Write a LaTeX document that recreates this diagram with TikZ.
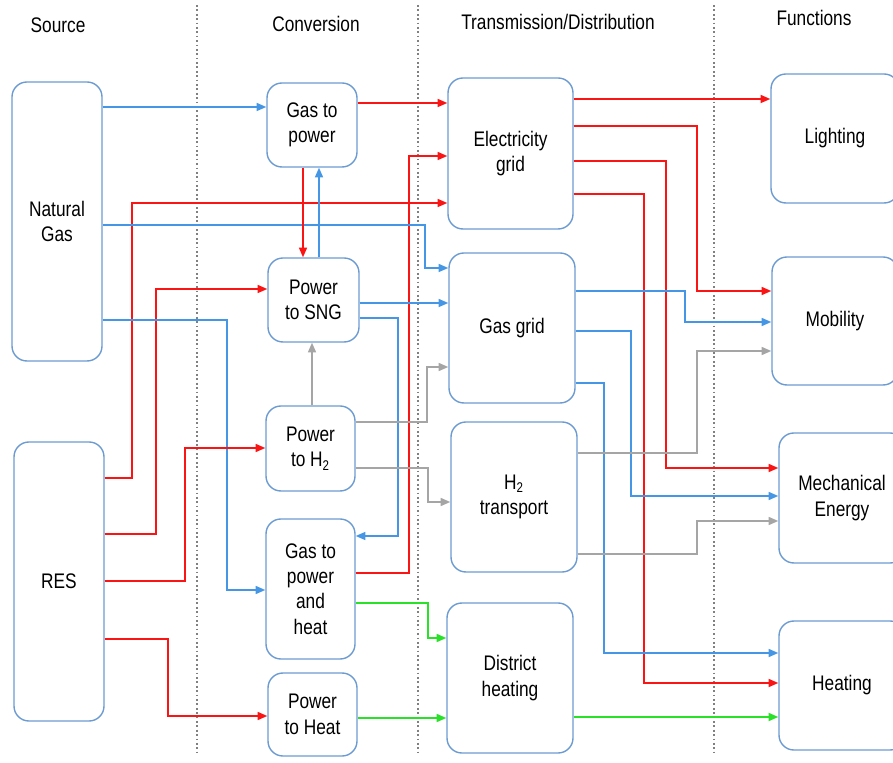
\documentclass[tikz,border=0pt]{standalone}
\usepackage{fontspec}
\setmainfont{Liberation Sans}[FakeStretch=0.82]
\usetikzlibrary{arrows.meta}
\pgfdeclarelayer{background}
\pgfdeclarelayer{foreground}
\pgfsetlayers{background,main,foreground}
\definecolor{boxblue}{RGB}{108,155,210}
\definecolor{flred}{RGB}{250,20,20}
\definecolor{flblue}{RGB}{70,150,230}
\definecolor{flgray}{RGB}{165,165,165}
\definecolor{flgreen}{RGB}{40,225,40}

\begin{document}
\begin{tikzpicture}[x=0.02cm,y=-0.02cm,
	every node/.style={font=\fontsize{12}{14.5}\selectfont,align=center},
	box/.style 2 args={draw=boxblue,line width=0.8pt,rounded corners=8.5pt,inner sep=0pt,
		minimum width=#1*0.02cm,minimum height=#2*0.02cm},
	flow/.style={line width=1pt,-{Triangle[length=5.5pt,width=4.5pt]}},
	elec/.style={flow,flred},
	gas/.style={flow,flblue},
	hyd/.style={flow,flgray},
	hot/.style={flow,flgreen},
	divider/.style={draw=gray,line width=0.8pt,dash pattern=on 1pt off 1.5pt}]

	\useasboundingbox (0,0) rectangle (893,763);
	\clip (0,0) rectangle (893,763);

	\node (hsrc) at (58,25) {Source};
	\node (hconv) at (316,24) {Conversion};
	\node (htd) at (558,22) {Transmission/Distribution};
	\node (hfun) at (814,18) {Functions};

	% sources
	\node[box={90}{279}] (ng) at (57,221.5) {Natural\\Gas};
	\node[box={90}{279}] (res) at (59,581.5) {RES};

	% conversion
	\node[box={90}{84}] (gtp) at (312,125) {Gas to\\power};
	\node[box={91}{84}] (psng) at (313.5,300) {Power\\to SNG};
	\node[box={89}{85}] (ph2) at (310.5,448.5) {Power\\to H\textsubscript{2}};
	\node[box={89}{140}] (gtph) at (310.5,589) {Gas to\\power\\and\\heat};
	\node[box={89}{83}] (pheat) at (312.5,714.5) {Power\\to Heat};

	% transmission / distribution
	\node[box={125}{151}] (egr) at (510.5,153.5) {Electricity\\grid};
	\node[box={126}{150}] (ggr) at (512,328) {Gas grid};
	\node[box={126}{150}] (htr) at (514,497) {H\textsubscript{2}\\transport};
	\node[box={126}{150}] (dhe) at (510,678) {District\\heating};

	% functions
	\node[box={128}{129}] (lig) at (835,138.5) {Lighting};
	\node[box={126}{128}] (mob) at (835,321) {Mobility};
	\node[box={126}{130}] (mec) at (842,498) {Mechanical\\Energy};
	\node[box={126}{129}] (hea) at (842,685.5) {Heating};

	\draw[gas] (ng.east |- 0,107) -- (gtp.west |- 0,107);
	\draw[elec] (gtp.east |- 0,103) -- (egr.west |- 0,103);
	\draw[elec] (gtph.east |- 0,573) -| (409,156) -- (egr.west |- 0,156);
	\draw[elec] (res.east |- 0,478) -| (132,203) -- (egr.west |- 0,203);
	\draw[gas] (ng.east |- 0,225) -| (425,268) -- (ggr.west |- 0,268);
	\draw[elec] (gtp.south -| 303,0) -- (psng.north -| 303,0);
	\draw[gas] (psng.north -| 319,0) -- (gtp.south -| 319,0);
	\draw[elec] (res.east |- 0,534) -| (156,289) -- (psng.west |- 0,289);
	\draw[gas] (psng.east |- 0,303) -- (ggr.west |- 0,303);
	\draw[gas] (psng.east |- 0,318) -| (398,536) -- (gtph.east |- 0,536);
	\draw[gas] (ng.east |- 0,320) -| (227,590) -- (gtph.west |- 0,590);
	\draw[hyd] (ph2.north -| 312,0) -- (psng.south -| 312,0);
	\draw[hyd] (ph2.east |- 0,422) -| (427,367) -- (ggr.west |- 0,367);
	\draw[hyd] (ph2.east |- 0,468) -| (428,502) -- (htr.west |- 0,502);
	\draw[elec] (res.east |- 0,581) -| (185,448) -- (ph2.west |- 0,448);
	\draw[elec] (res.east |- 0,639) -| (168,716) -- (pheat.west |- 0,716);
	\draw[hot] (gtph.east |- 0,603) -| (428,638) -- (dhe.west |- 0,638);
	\draw[hot] (pheat.east |- 0,718) -- (dhe.west |- 0,718);

	\draw[elec] (egr.east |- 0,99) -- (lig.west |- 0,99);
	\draw[elec] (egr.east |- 0,126) -| (697,291) -- (mob.west |- 0,291);
	\draw[elec] (egr.east |- 0,161) -| (666,468) -- (mec.west |- 0,468);
	\draw[elec] (egr.east |- 0,194) -| (644,683) -- (hea.west |- 0,683);
	\draw[gas] (ggr.east |- 0,291) -| (685,322) -- (mob.west |- 0,322);
	\draw[gas] (ggr.east |- 0,331) -| (631,496) -- (mec.west |- 0,496);
	\draw[gas] (ggr.east |- 0,383) -| (604,653) -- (hea.west |- 0,653);
	\draw[hyd] (htr.east |- 0,453) -| (697,351) -- (mob.west |- 0,351);
	\draw[hyd] (htr.east |- 0,554) -| (697,521) -- (mec.west |- 0,521);
	\draw[hot] (dhe.east |- 0,717) -- (hea.west |- 0,717);

\begin{pgfonlayer}{background}
	\draw[divider] (197,5) -- (197,755);
	\draw[divider] (418,5) -- (418,755);
	\draw[divider] (714,5) -- (714,755);
\end{pgfonlayer}

\end{tikzpicture}
\end{document}
